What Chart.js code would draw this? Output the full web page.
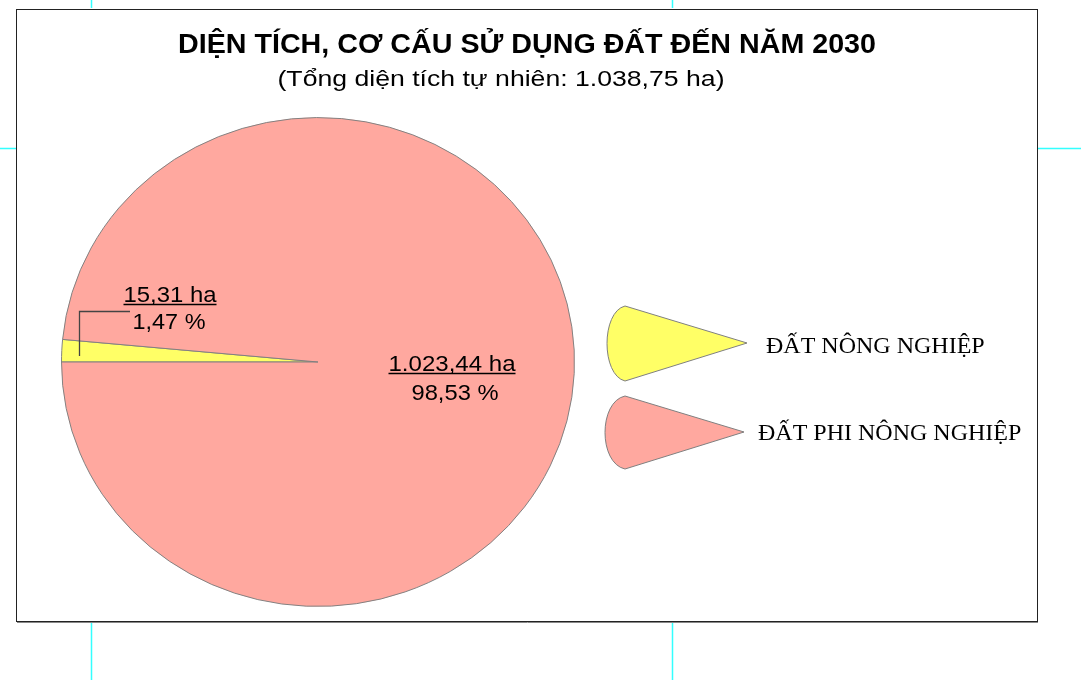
<!DOCTYPE html>
<html>
<head>
<meta charset="utf-8">
<script src="https://cdn.jsdelivr.net/npm/chart.js@4/dist/chart.umd.min.js"></script>
<style>
  html, body { margin: 0; padding: 0; background: #fff; }
  canvas { display: block; }
</style>
</head>
<body>
<canvas id="pie" width="1081" height="680"></canvas>
<script>
// Số liệu sử dụng đất đến năm 2030
const loaiDat = ['ĐẤT NÔNG NGHIỆP', 'ĐẤT PHI NÔNG NGHIỆP'];
const dienTich = [15.31, 1023.44];
const mauSac = ['#FFFF66', '#FFA89F'];
const tieuDe = 'DIỆN TÍCH, CƠ CẤU SỬ DỤNG ĐẤT ĐẾN NĂM 2030';
const tongDienTich = 1038.75;
const phuDe = '(Tổng diện tích tự nhiên: ' + fmt(tongDienTich) + ' ha)';

// định dạng số kiểu Việt Nam: 1.023,44
function fmt(v) {
    const parts = v.toFixed(2).split('.');
    return parts[0].replace(/\B(?=(\d{3})+(?!\d))/g, '.') + ',' + parts[1];
}

// vẽ chữ co giãn ngang cho vừa độ rộng cho trước
function textFit(ctx, text, cx, y, width) {
    const w = ctx.measureText(text).width;
    ctx.save();
    ctx.translate(cx, y);
    ctx.scale(width / w, 1);
    ctx.textAlign = 'center';
    ctx.fillText(text, 0, 0);
    ctx.restore();
}

function underlined(ctx, text, cx, y, width, lineY) {
    textFit(ctx, text, cx, y, width);
    ctx.beginPath();
    ctx.moveTo(cx - width / 2, lineY);
    ctx.lineTo(cx + width / 2, lineY);
    ctx.stroke();
}

// khung, dấu cắt màu xanh, tiêu đề
const framePlugin = {
    id: 'frame',
    beforeDraw(chart) {
        const ctx = chart.ctx;
        ctx.save();
        ctx.fillStyle = '#fff';
        ctx.fillRect(0, 0, chart.width, chart.height);
        ctx.strokeStyle = '#33ffff';
        ctx.lineWidth = 1.5;
        ctx.beginPath();
        ctx.moveTo(91.5, 0); ctx.lineTo(91.5, 8);
        ctx.moveTo(672.5, 0); ctx.lineTo(672.5, 8);
        ctx.moveTo(91.5, 622); ctx.lineTo(91.5, 680);
        ctx.moveTo(672.5, 622); ctx.lineTo(672.5, 680);
        ctx.moveTo(0, 148.5); ctx.lineTo(16, 148.5);
        ctx.moveTo(1038, 148.5); ctx.lineTo(1081, 148.5);
        ctx.stroke();
        ctx.lineWidth = 1;
        ctx.strokeStyle = '#222';
        ctx.strokeRect(16.5, 9.5, 1021, 612);
        ctx.strokeStyle = '#888';
        ctx.beginPath();
        ctx.moveTo(17, 622.5); ctx.lineTo(1038, 622.5);
        ctx.stroke();

        ctx.fillStyle = '#000';
        ctx.textBaseline = 'alphabetic';
        ctx.font = 'bold 28px "Liberation Sans", Arial, sans-serif';
        textFit(ctx, tieuDe, 527, 53, 698);
        ctx.font = '22px "Liberation Sans", Arial, sans-serif';
        textFit(ctx, phuDe, 501, 86, 447);
        ctx.restore();
    }
};

// ép hình tròn thành elip nhẹ như bản gốc
const ellipsePlugin = {
    id: 'ellipse',
    beforeDatasetsDraw(chart) {
        const arc = chart.getDatasetMeta(0).data[0];
        const ctx = chart.ctx;
        ctx.save();
        ctx.translate(0, arc.y);
        ctx.scale(1, 0.953);
        ctx.translate(0, -arc.y);
    },
    afterDatasetsDraw(chart) {
        chart.ctx.restore();
    }
};

// nhãn số liệu + chú giải hình quạt
const labelPlugin = {
    id: 'labels',
    afterDraw(chart) {
        const ctx = chart.ctx;
        const ds = chart.data.datasets[0];
        const total = ds.data.reduce((a, b) => a + b, 0);
        const pct = ds.data.map(v => fmt(v / total * 100) + ' %');
        ctx.save();
        ctx.fillStyle = '#000';
        ctx.strokeStyle = '#000';
        ctx.lineWidth = 1.3;
        ctx.font = '22px "Liberation Sans", Arial, sans-serif';
        ctx.textBaseline = 'alphabetic';

        // nhãn đất nông nghiệp + đường dẫn
        underlined(ctx, fmt(ds.data[0]) + ' ha', 170, 302, 93, 304.5);
        textFit(ctx, pct[0], 169, 329, 73);
        ctx.strokeStyle = '#444';
        ctx.beginPath();
        ctx.moveTo(79.5, 356); ctx.lineTo(79.5, 311.5); ctx.lineTo(130, 311.5);
        ctx.stroke();

        // nhãn đất phi nông nghiệp
        ctx.strokeStyle = '#000';
        underlined(ctx, fmt(ds.data[1]) + ' ha', 452, 371, 127, 373.5);
        textFit(ctx, pct[1], 455, 400, 87);

        // chú giải
        const items = [
            {apex: [747, 343], top: [625, 306], bot: [625, 381], left: 607, tx: 766, ty: 353},
            {apex: [744, 432], top: [625, 396], bot: [625, 469], left: 605, tx: 758, ty: 440}
        ];
        ctx.font = '24px "Liberation Serif", "Times New Roman", serif';
        ctx.textAlign = 'left';
        items.forEach((it, i) => {
            ctx.beginPath();
            ctx.moveTo(it.apex[0], it.apex[1]);
            ctx.lineTo(it.top[0], it.top[1]);
            const h = it.bot[1] - it.top[1];
            const cxp = it.left - (it.top[0] - it.left) / 3;
            ctx.bezierCurveTo(cxp, it.top[1] + h * 0.08, cxp, it.bot[1] - h * 0.08, it.bot[0], it.bot[1]);
            ctx.closePath();
            ctx.fillStyle = ds.backgroundColor[i];
            ctx.fill();
            ctx.strokeStyle = '#808080';
            ctx.lineWidth = 1;
            ctx.stroke();
            ctx.fillStyle = '#000';
            ctx.fillText(chart.data.labels[i], it.tx, it.ty);
        });
        ctx.restore();
    }
};

new Chart(document.getElementById('pie'), {
    type: 'pie',
    data: {
        labels: loaiDat,
        datasets: [{
            data: dienTich,
            backgroundColor: mauSac,
            borderColor: '#808080',
            borderWidth: 1
        }]
    },
    options: {
        responsive: false,
        animation: false,
        rotation: -90,
        layout: {
            padding: {left: 60, right: 505, top: 105, bottom: 61}
        },
        plugins: {
            legend: {display: false},
            tooltip: {enabled: false}
        }
    },
    plugins: [framePlugin, ellipsePlugin, labelPlugin]
});
</script>
</body>
</html>
